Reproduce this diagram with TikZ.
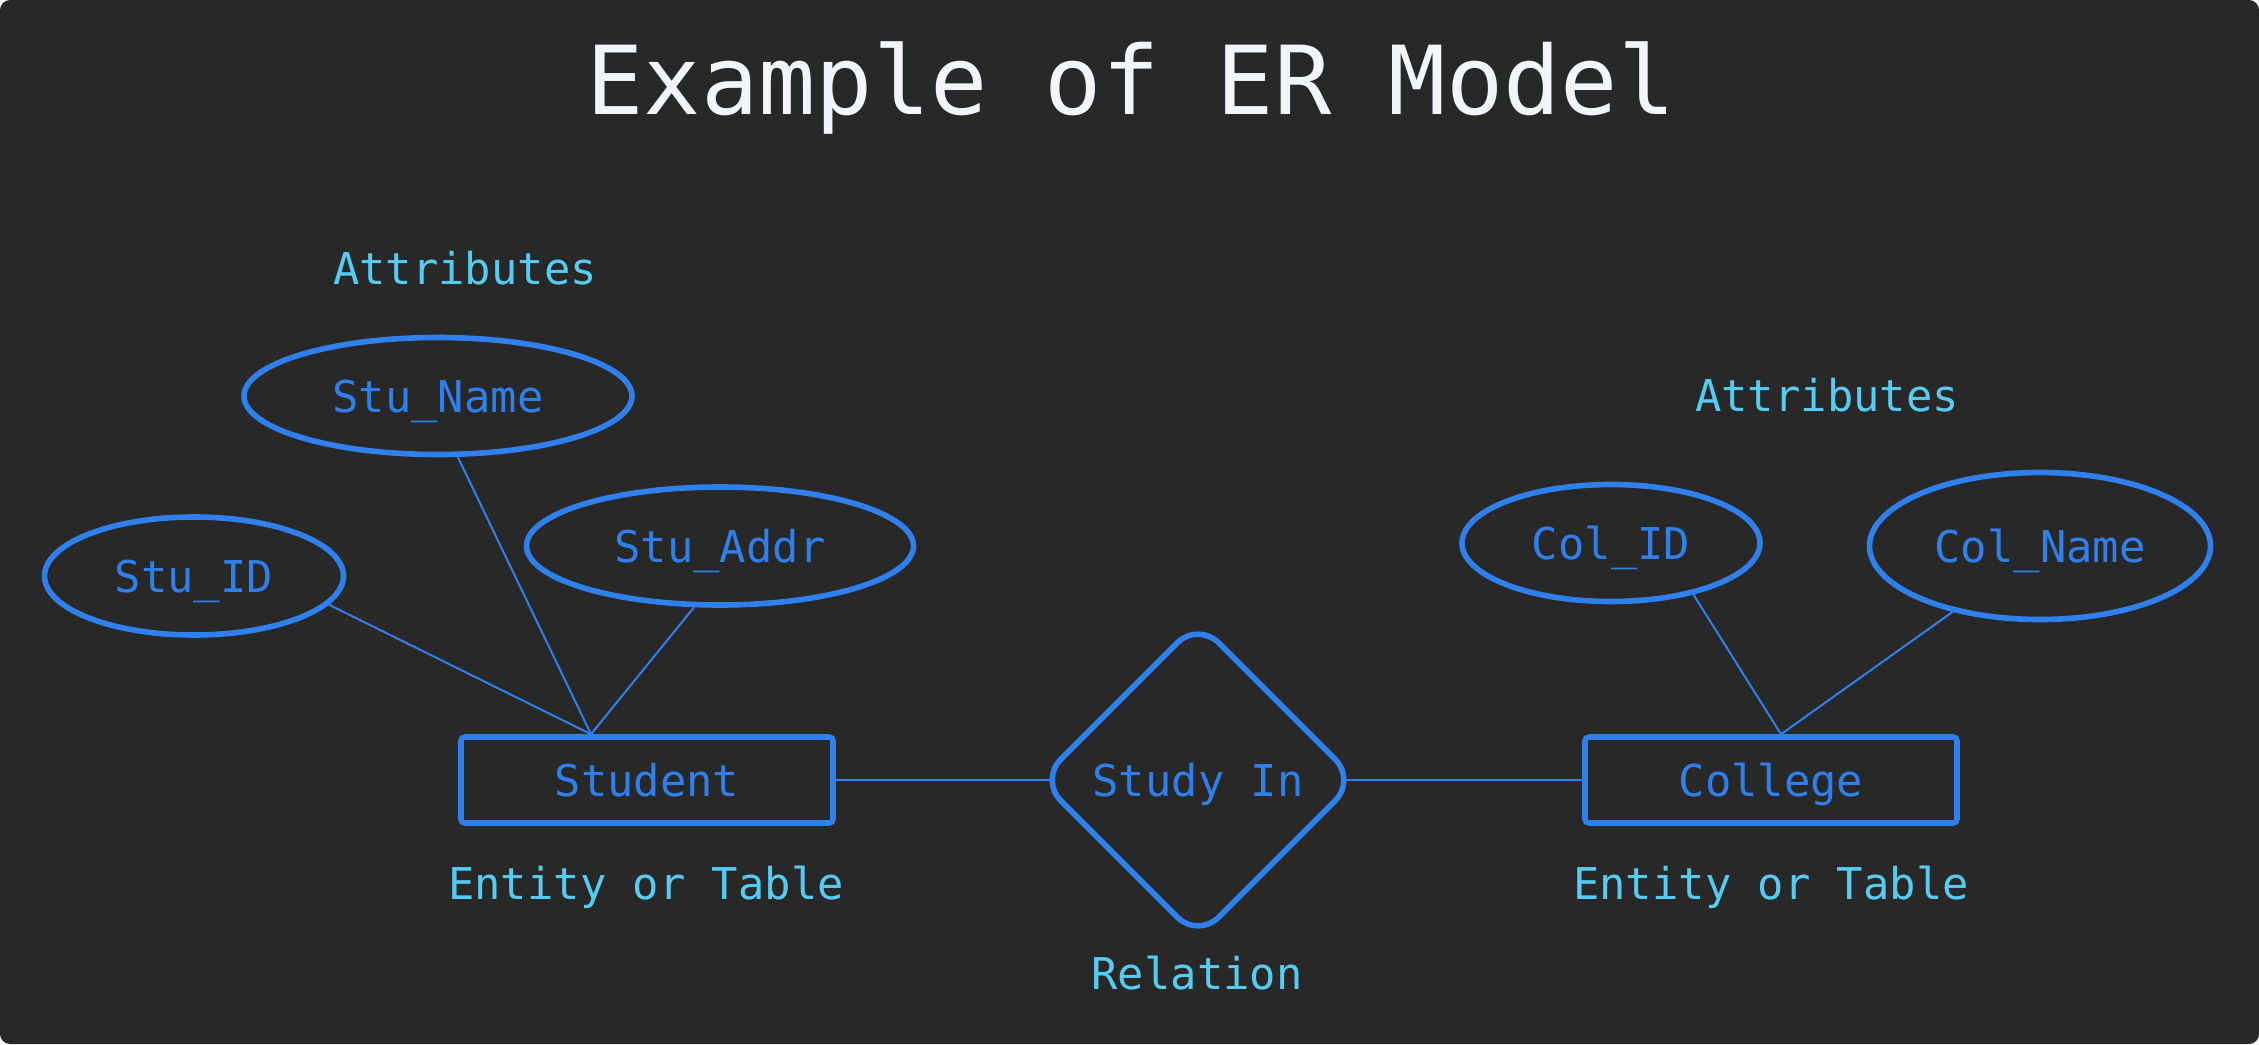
\documentclass[tikz,border=0pt]{standalone}
\usepackage{fontspec}
\setmonofont{DejaVu Sans Mono}
\usetikzlibrary{shapes.geometric,backgrounds}
\definecolor{bgcol}{HTML}{282828}
\definecolor{erblue}{HTML}{2F80ED}
\definecolor{ercyan}{HTML}{56CCF2}
\definecolor{titlecol}{HTML}{F0F6FC}
\def\erfont{\ttfamily\fontsize{21.9pt}{26pt}\selectfont}
\tikzset{
	shapebox/.style={draw=erblue, line width=2.8pt, fill=bgcol, text=erblue, inner sep=0pt, text height=16pt, text depth=0pt, font=\erfont},
	attr/.style={shapebox, ellipse},
	entity/.style={shapebox, rectangle, rounded corners=2pt, minimum width=186pt, minimum height=43pt},
	relation/.style={shapebox, diamond, line width=2.8pt, rounded corners=14.5pt, minimum width=159pt, minimum height=159pt},
	note/.style={text=ercyan, anchor=base, font=\erfont},
	link/.style={draw=erblue, line width=1pt},
}

\begin{document}
\begin{tikzpicture}[x=0.5pt, y=-0.5pt]
		%%%%% START %%%%%
		
		\begin{scope}[on background layer]
			\fill[bgcol, rounded corners=5pt] (0, 0) rectangle (2259, 1044);
		\end{scope}
		
		\node[anchor=base, text=titlecol, font=\ttfamily\fontsize{47.6pt}{57pt}\selectfont] (title) at (1131, 114) {Example of ER Model};
		
		\node[note] (stuattr) at (465, 284) {Attributes};
		\node[attr, minimum width=194pt, minimum height=58.5pt] (stuname) at (438, 396) {Stu\_Name};
		\node[attr, minimum width=149.5pt, minimum height=59pt] (stuid) at (194, 576) {Stu\_ID};
		\node[attr, minimum width=193.5pt, minimum height=59pt] (stuaddr) at (720, 546) {Stu\_Addr};
		
		\node[entity] (student) at (647, 780) {Student};
		\node[note] (stunote) at (646, 899) {Entity or Table};
		
		\node[relation] (studyin) at (1198, 780) {Study In};
		\node[note] (relnote) at (1197, 989) {Relation};
		
		\node[note] (colattr) at (1827, 411) {Attributes};
		\node[attr, minimum width=149pt, minimum height=58.5pt] (colid) at (1611, 543) {Col\_ID};
		\node[attr, minimum width=170.5pt, minimum height=73.5pt] (colname) at (2040, 546) {Col\_Name};
		
		\node[entity] (college) at (1771, 780) {College};
		\node[note] (colnote) at (1771, 899) {Entity or Table};
		
		\coordinate (stuhub) at ([xshift=-28pt]student.north);
		\coordinate (colhub) at ([xshift=5pt]college.north);
		
		\begin{scope}[on background layer]
			\draw[link] (stuid.-12) -- (stuhub);
			\draw[link] (stuname.-72) -- (stuhub);
			\draw[link] (stuaddr.-113) -- (stuhub);
			\draw[link] (colid.-32) -- (colhub);
			\draw[link] (colname.-143) -- (colhub);
			
			% run under the filled diamond so the ends meet its rounded tips
			\draw[link] (student.east) -- (studyin.center);
			\draw[link] (studyin.center) -- (college.west);
		\end{scope}
		
		%%%%% END %%%%%
\end{tikzpicture}
\end{document}
